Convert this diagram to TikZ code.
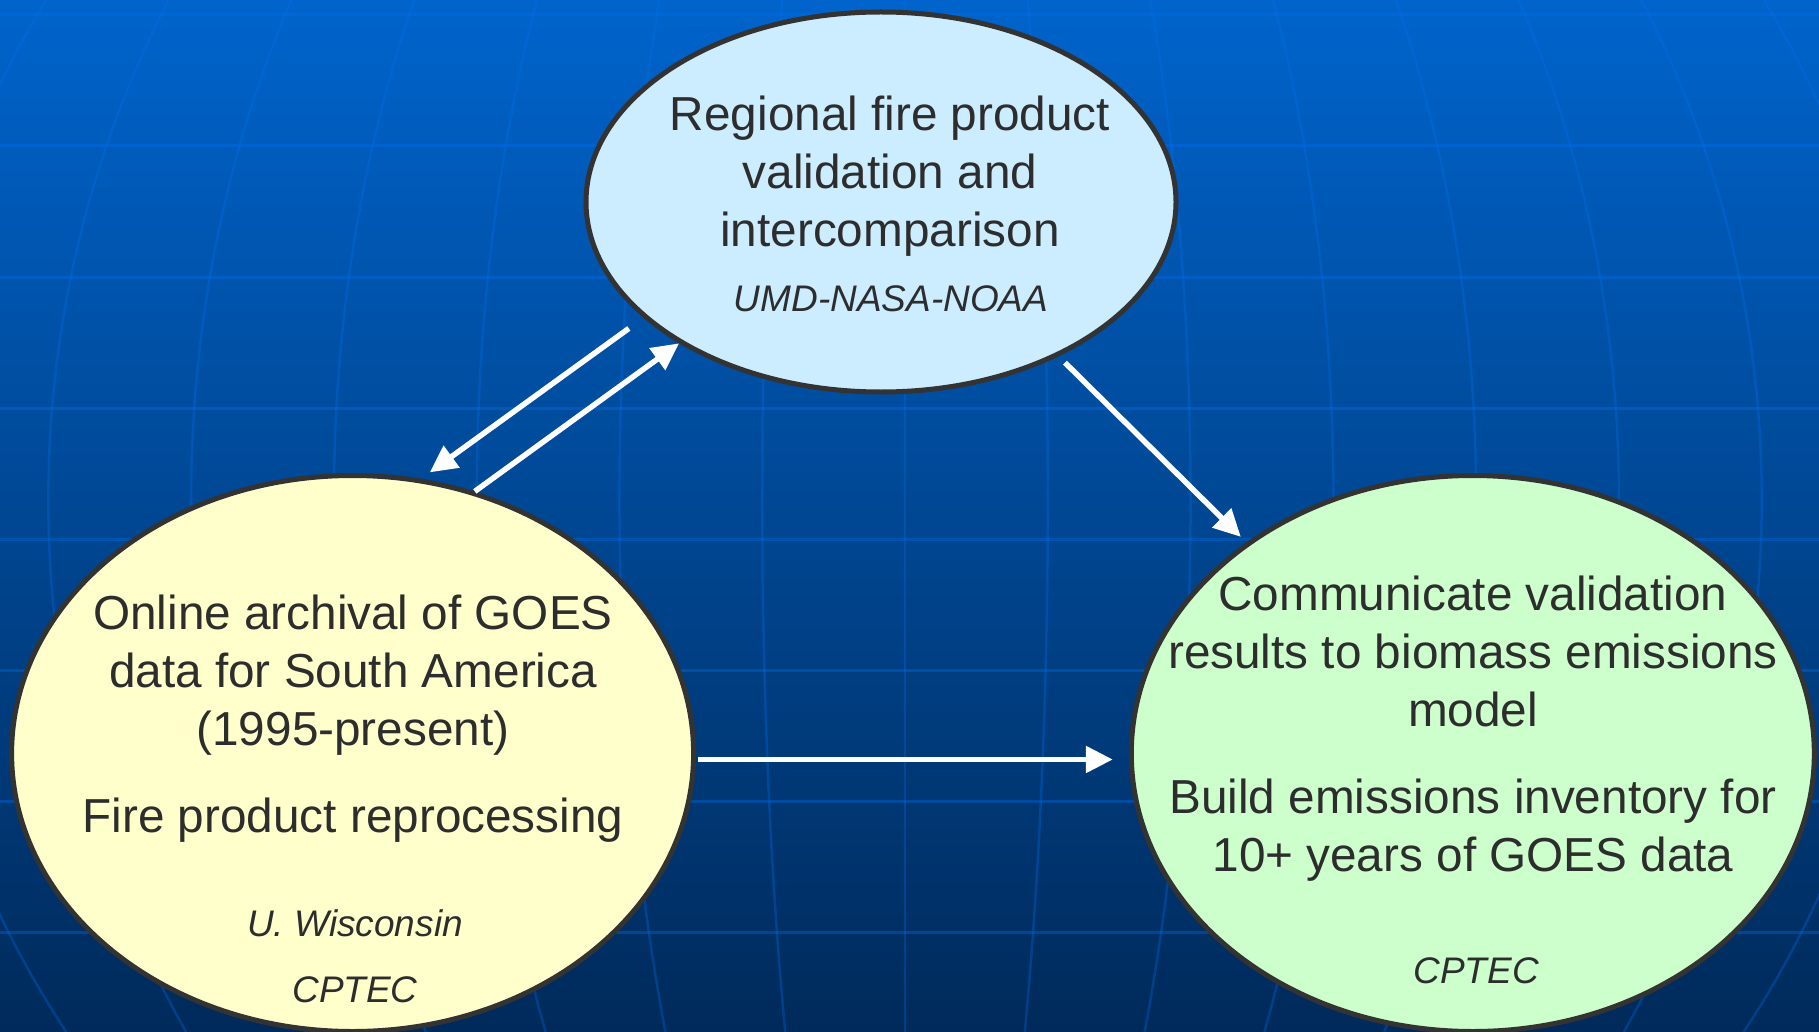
\documentclass[tikz,border=0pt]{standalone}
\usepackage{fontspec}
\setmainfont{Liberation Sans}
\usetikzlibrary{arrows.meta,shapes.geometric}
\definecolor{bgtop}{RGB}{0,100,204}
\definecolor{bgmid}{RGB}{0,80,165}
\definecolor{bgbot}{RGB}{0,42,90}
\definecolor{gridc}{RGB}{0,112,240}
\definecolor{edgec}{RGB}{51,51,51}
\definecolor{txtc}{RGB}{45,45,45}
\definecolor{fillblue}{RGB}{204,236,255}
\definecolor{fillyellow}{RGB}{255,255,204}
\definecolor{fillgreen}{RGB}{204,255,204}
\begin{document}
\begin{tikzpicture}[x=1pt,y=-1pt,
  bubble/.style={ellipse, draw=edgec, line width=5pt, inner sep=0pt, outer sep=2.5pt},
  bigtext/.style={anchor=base, inner sep=0pt, text=txtc, font=\fontsize{47.7}{58}\selectfont},
  smalltext/.style={anchor=base, inner sep=0pt, text=txtc, font=\fontsize{37}{44}\selectfont\itshape},
  flow/.style={draw=white, line width=5.5pt, -{Triangle[length=27pt,width=26pt]}},
  hgrid/.style={draw=gridc, opacity=0.35, line width=3pt},
  mgrid/.style={draw=gridc, opacity=0.3, line width=2.5pt}]
\useasboundingbox (0,0) rectangle (1819,1032);
\clip (0,0) rectangle (1819,1032);
% background
\shade[top color=bgtop, middle color=bgmid, bottom color=bgbot] (0,0) rectangle (1819,1032);
\foreach \j in {0,...,7} {
  \draw[hgrid] (0,15+131*\j) -- (1819,15+131*\j);
}
\foreach \k in {-7,...,7} {
  \draw[mgrid] plot[domain=0:1032, samples=40, variable=\t]
    ({905+\k*14.6*sqrt(95.65-((\t-500)/100)^2)}, {\t});
}
% bubbles
\node[bubble, fill=fillblue, minimum width=590pt, minimum height=380pt] (ntop) at (881,202) {};
\node[bubble, fill=fillyellow, minimum width=682pt, minimum height=556pt] (nleft) at (352.6,753.5) {};
\node[bubble, fill=fillgreen, minimum width=683pt, minimum height=556pt] (nright) at (1472.8,753.5) {};
% arrows
\draw[flow, shorten <=18pt, shorten >=10.7pt] (ntop.206.9) -- (nleft.76.7);
\draw[flow] (nleft.65.4) -- (ntop.215.9);
\draw[flow, shorten <=8.9pt, shorten >=7.8pt] (ntop.319.5) -- (nright.137.0);
\draw[flow, shorten <=2pt, shorten >=16pt] (nleft.359.2) -- (nleft.359.2 -| nright.west);
% texts top
\node[bigtext] (tt1) at (890,130.5) {Regional fire product};
\node[bigtext] (tt2) at (890,188.5) {validation and};
\node[bigtext] (tt3) at (890,246.5) {intercomparison};
\node[smalltext] (tt4) at (891,311) {UMD-NASA-NOAA};
% texts left
\node[bigtext] (lt1) at (353,629) {Online archival of GOES};
\node[bigtext] (lt2) at (353,687) {data for South America};
\node[bigtext] (lt3) at (353,745) {(1995-present)};
\node[bigtext] (lt4) at (353,832) {Fire product reprocessing};
\node[smalltext] (lt5) at (355,936) {U. Wisconsin};
\node[smalltext] (lt6) at (355,1002.5) {CPTEC};
% texts right
\node[bigtext] (rt1) at (1473,610.5) {Communicate validation};
\node[bigtext] (rt2) at (1473,668.5) {results to biomass emissions};
\node[bigtext] (rt3) at (1473,726.5) {model};
\node[bigtext] (rt4) at (1473,813) {Build emissions inventory for};
\node[bigtext] (rt5) at (1473,871) {10+ years of GOES data};
\node[smalltext] (rt6) at (1476,983) {CPTEC};
\end{tikzpicture}
\end{document}
